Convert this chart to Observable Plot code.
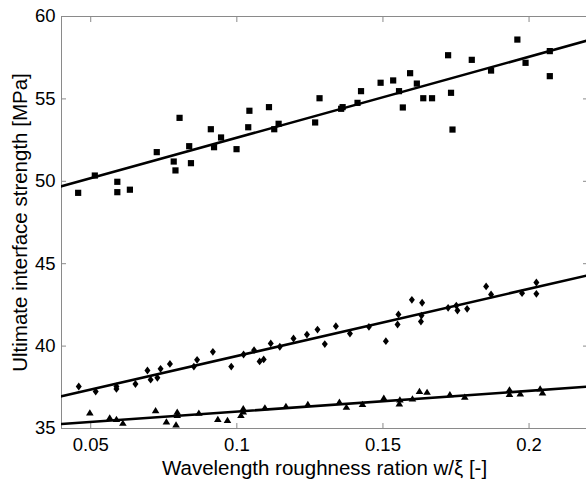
<!DOCTYPE html>
<html><head><meta charset="utf-8">
<script src="https://cdn.jsdelivr.net/npm/d3@7"></script>
<script src="https://cdn.jsdelivr.net/npm/@observablehq/plot@0.6"></script>
<style>body{margin:0;background:#fff;} svg{font-family:"Liberation Sans",Arial,sans-serif;}</style>
</head><body><div id="chart"></div>
<script>
// ---- data ----
const squareX = [0.0457,0.0514,0.0591,0.0591,0.0634,0.0726,0.0784,0.0790,0.0804,0.0837,0.0843,0.0911,0.0922,0.0946,0.0999,0.1039,0.1043,0.1110,0.1128,0.1143,0.1268,0.1283,0.1357,0.1362,0.1413,0.1425,0.1492,0.1535,0.1555,0.1568,0.1593,0.1616,0.1638,0.1668,0.1723,0.1733,0.1738,0.1804,0.1870,0.1960,0.1988,0.2071,0.2071];
const squareY = [49.30,50.35,49.97,49.34,49.49,51.77,51.20,50.66,53.85,52.13,51.10,53.16,52.07,52.66,51.95,53.28,54.28,54.50,53.16,53.49,53.57,55.04,54.40,54.50,54.76,55.47,55.98,56.12,55.47,54.48,56.56,55.93,55.04,55.04,57.65,55.37,53.14,57.37,56.72,58.60,57.19,57.90,56.38];

const diamondX = [0.0459,0.0517,0.0588,0.0588,0.0653,0.0694,0.0705,0.0728,0.0739,0.0771,0.0853,0.0864,0.0918,0.0981,0.1023,0.1059,0.1078,0.1092,0.1116,0.1147,0.1194,0.1240,0.1276,0.1301,0.1339,0.1387,0.1452,0.1510,0.1550,0.1553,0.1599,0.1634,0.1630,0.1632,0.1723,0.1751,0.1755,0.1788,0.1853,0.1870,0.1976,0.2025,0.2025];
const diamondY = [37.55,37.24,37.55,37.40,37.70,38.52,37.96,38.08,38.62,38.92,38.76,39.17,39.65,38.76,39.49,39.75,39.07,39.19,40.16,39.96,40.46,40.70,41.00,40.12,41.21,40.76,41.17,40.30,41.31,41.92,42.81,42.63,41.49,41.85,42.32,42.46,42.16,42.26,43.62,43.13,43.21,43.86,43.17];

const triangleX = [0.0497,0.0565,0.0588,0.0610,0.0722,0.0759,0.0796,0.0796,0.0792,0.0870,0.0935,0.0968,0.1022,0.1022,0.1014,0.1096,0.1168,0.1243,0.1351,0.1375,0.1430,0.1503,0.1556,0.1558,0.1601,0.1625,0.1651,0.1729,0.1780,0.1933,0.1933,0.1970,0.2038,0.2046];
const triangleY = [35.95,35.65,35.55,35.32,36.09,35.40,35.99,35.79,35.22,35.93,35.55,35.49,36.20,36.00,35.79,36.26,36.34,36.46,36.60,36.29,36.46,36.84,36.50,36.74,36.80,37.25,37.20,37.05,36.90,37.35,37.07,37.10,37.41,37.16];

const xDomain = [0.04, 0.22];
const yDomain = [35, 60];
const xTicks = [0.05, 0.1, 0.15, 0.2];
const xTickLabels = ["0.05", "0.1", "0.15", "0.2"];
const yTicks = [35, 40, 45, 50, 55, 60];
const xLabel = "Wavelength roughness ration w/\u03BE [-]";
const yLabel = "Ultimate interface strength [MPa]";

// ---- build tables ----
function pts(xs, ys) { return xs.map((x, i) => ({x, y: ys[i]})); }
const squares = pts(squareX, squareY);
const diamonds = pts(diamondX, diamondY);
const triangles = pts(triangleX, triangleY);

function fitLine(data) {
  const mx = d3.mean(data, d => d.x), my = d3.mean(data, d => d.y);
  const sxy = d3.sum(data, d => (d.x - mx) * (d.y - my));
  const sxx = d3.sum(data, d => (d.x - mx) ** 2);
  const b = sxy / sxx, a = my - b * mx;
  return xDomain.map(x => ({x, y: a + b * x}));
}

const symSquare = {draw(ctx) { const s = 3.1; ctx.moveTo(-s,-s); ctx.lineTo(s,-s); ctx.lineTo(s,s); ctx.lineTo(-s,s); ctx.closePath(); }};
const symDiamond = {draw(ctx) { ctx.moveTo(0,-3.9); ctx.lineTo(3,0); ctx.lineTo(0,3.9); ctx.lineTo(-3,0); ctx.closePath(); }};
const symTriangle = {draw(ctx) { ctx.moveTo(0,-3.6); ctx.lineTo(3.8,2.6); ctx.lineTo(-3.8,2.6); ctx.closePath(); }};

const gray = "#8a8a8a";
const fmt = d => xTickLabels[xTicks.indexOf(d)];

const chart = Plot.plot({
  width: 586,
  height: 482,
  marginTop: 16,
  marginBottom: 54,
  marginLeft: 61,
  marginRight: -1,
  style: {fontFamily: "Liberation Sans, Arial, sans-serif", background: "white", color: "black"},
  x: {domain: xDomain},
  y: {domain: yDomain},
  marks: [
    Plot.frame({stroke: gray}),
    Plot.axisX(xTicks, {anchor: "bottom", tickSize: -5, tickPadding: 14, tickFormat: fmt, fontSize: 18.5, stroke: gray, fill: "black",
      label: xLabel, labelAnchor: "center", labelOffset: 46, labelArrow: "none"}),
    Plot.axisX(xTicks, {anchor: "top", tickSize: -5, tickFormat: () => "", stroke: gray, label: null}),
    Plot.axisY(yTicks, {anchor: "left", tickSize: -5, tickPadding: 11, fontSize: 18.5, stroke: gray, fill: "black",
      label: yLabel, labelAnchor: "center", labelOffset: 49, labelArrow: "none"}),
    Plot.axisY(yTicks, {anchor: "right", tickSize: -5, tickFormat: () => "", stroke: gray, label: null}),
    Plot.line(fitLine(squares), {x: "x", y: "y", stroke: "black", strokeWidth: 2.6, clip: true}),
    Plot.line(fitLine(diamonds), {x: "x", y: "y", stroke: "black", strokeWidth: 2.6, clip: true}),
    Plot.line(fitLine(triangles), {x: "x", y: "y", stroke: "black", strokeWidth: 2.6, clip: true}),
    Plot.dot(squares, {x: "x", y: "y", symbol: symSquare, fill: "black", stroke: "none"}),
    Plot.dot(diamonds, {x: "x", y: "y", symbol: symDiamond, fill: "black", stroke: "none"}),
    Plot.dot(triangles, {x: "x", y: "y", symbol: symTriangle, fill: "black", stroke: "none"})
  ]
});
chart.querySelectorAll("[aria-label$='axis label'] text").forEach(t => t.setAttribute("font-size", "20.5"));
document.getElementById("chart").appendChild(chart);
</script>
</body></html>
